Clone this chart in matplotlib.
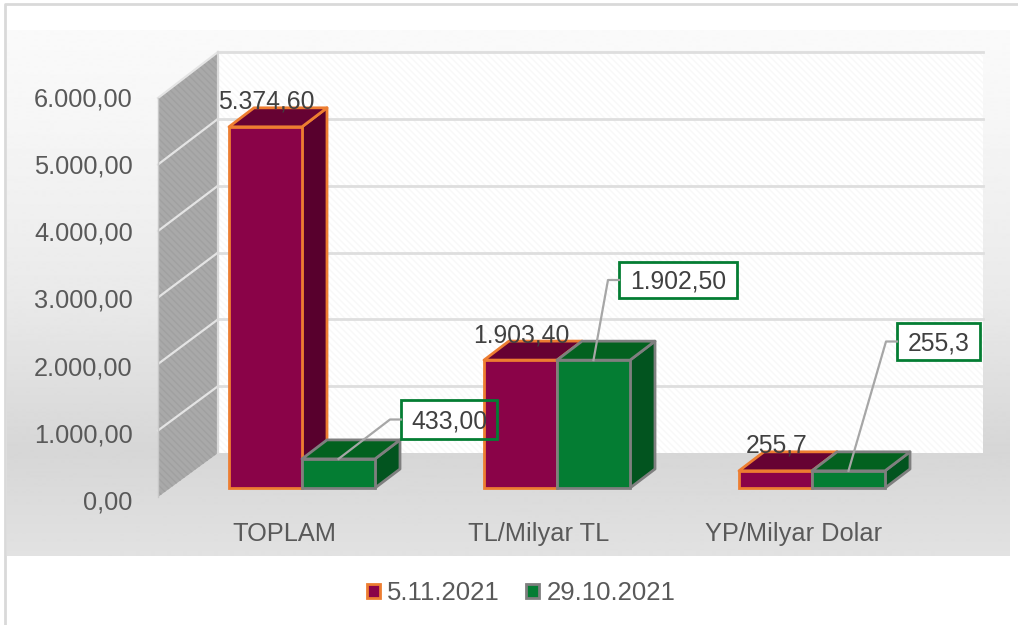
import numpy as np
import matplotlib
matplotlib.use('Agg')
import matplotlib.pyplot as plt
from matplotlib.patches import Polygon, Rectangle
from matplotlib.transforms import ScaledTranslation

# --- Data ---
categories = ['TOPLAM', 'TL/Milyar TL', 'YP/Milyar Dolar']
series_names = ['5.11.2021', '29.10.2021']
values_nov = [5374.60, 1903.40, 255.7]
values_oct = [433.00, 1902.50, 255.3]
labels_nov = ['5.374,60', '1.903,40', '255,7']
labels_oct = ['433,00', '1.902,50', '255,3']
y_ticks = [0, 1000, 2000, 3000, 4000, 5000, 6000]
y_tick_labels = ['0,00', '1.000,00', '2.000,00', '3.000,00', '4.000,00', '5.000,00', '6.000,00']

# --- Layout (pixels of the 1018x625 picture) ---
W, H = 1018, 625
DPI = 100
DEPTH_X, DEPTH_Y = 25, 19     # depth of the 3D bars
BAR_W = 73 / 255              # one bar, in category units
PX_Y = 403.2 / 6000           # pixels per unit on the front plane

plt.rcParams['font.family'] = ['Liberation Sans', 'DejaVu Sans']
plt.rcParams['hatch.linewidth'] = 1.0

fig = plt.figure(figsize=(W / DPI, H / DPI), dpi=DPI, facecolor='white')

# --- Background, walls and frame in picture pixels ---
bg = fig.add_axes([0, 0, 1, 1])
bg.set_axis_off()
rows = np.arange(30, 557)
shade = np.interp(rows, [30, 120, 300, 450, 556], [0.98, 0.965, 0.915, 0.84, 0.885])
bg.imshow(shade[:, None], cmap='gray', vmin=0, vmax=1, extent=(7, 1010, 556, 30),
          aspect='auto', interpolation='bilinear', zorder=0)
bg.set_xlim(0, W)
bg.set_ylim(H, 0)

bg.plot([5.5, 5.5, W], [H, 4, 4], color='#d9d9d9', lw=2, zorder=1)

def back_y(v):
    return 453 - v * 401 / 6000

def side_y(v):
    return 497 - v * 399 / 6000

bg.add_patch(Polygon([(218, 52), (983, 52), (983, 453), (218, 453)], facecolor='white',
                     edgecolor='#f8f8f8', hatch='\\\\\\\\\\', lw=0, zorder=1))
bg.add_patch(Polygon([(158, 98), (218, 52), (218, 453), (158, 497)], facecolor='#a9a9a9',
                     edgecolor='#a0a0a0', hatch='\\\\\\\\\\', lw=0, zorder=1))
for v in y_ticks:
    if v > 0:
        bg.plot([218, 983], [back_y(v), back_y(v)], color='#dedede', lw=2, zorder=2)
        bg.plot([158, 218], [side_y(v), back_y(v)], color='#e4e4e4', lw=1.6, zorder=2)
bg.plot([158, 158], [side_y(0), side_y(6000)], color='#c8c8c8', lw=1, zorder=2)
bg.plot([218, 218], [back_y(0), back_y(6000)], color='#dadada', lw=1.6, zorder=2)

# --- Bars on the front plane ---
ax = fig.add_axes([174.5 / W, (H - 488) / H, 765 / W, 403.2 / H])
ax.patch.set_alpha(0)
ax.set_xlim(-0.5, 2.5)
ax.set_ylim(0, 6000)
for s in ax.spines.values():
    s.set_visible(False)

x = np.arange(len(categories))
dx = DEPTH_X / 255
dy = DEPTH_Y / PX_Y


def bar_3d(xs, vals, face, top, side, edge, z, name):
    bars = ax.bar(xs, vals, BAR_W, color=face, edgecolor=edge, linewidth=2, zorder=z + 1,
                  label=name, clip_on=False)
    for xc, v in zip(xs, vals):
        l, r = xc - BAR_W / 2, xc + BAR_W / 2
        ax.add_patch(Polygon([(r, 0), (r + dx, dy), (r + dx, v + dy), (r, v)], facecolor=side,
                             edgecolor=edge, lw=2, joinstyle='round', zorder=z, clip_on=False))
        ax.add_patch(Polygon([(l, v), (l + dx, v + dy), (r + dx, v + dy), (r, v)], facecolor=top,
                             edgecolor=edge, lw=2, joinstyle='round', zorder=z, clip_on=False))
    return bars


x_nov = x - BAR_W / 2
x_oct = x + BAR_W / 2
bars_nov = bar_3d(x_nov, values_nov, '#8a0348', '#660233', '#58002d', '#ed7d31', 2, series_names[0])
bars_oct = bar_3d(x_oct, values_oct, '#047d33', '#03611f', '#02541f', '#7f7f7f', 4, series_names[1])

# --- Axis labels ---
ax.set_yticks(y_ticks, y_tick_labels)
ax.set_xticks(x, categories)
ax.tick_params(axis='y', length=0, pad=30, labelsize=18.3, labelcolor='#595959')
ax.tick_params(axis='x', length=0, pad=24.5, labelsize=18.3, labelcolor='#595959')
for lab in ax.get_yticklabels():
    lab.set_transform(lab.get_transform() + ScaledTranslation(0, -12 / DPI, fig.dpi_scale_trans))
for lab in ax.get_xticklabels():
    lab.set_transform(lab.get_transform() + ScaledTranslation(-18 / DPI, 0, fig.dpi_scale_trans))

# --- Data labels ---
for xc, v, t in zip(x_nov, values_nov, labels_nov):
    ax.annotate(t, (xc, v), xytext=(0.5, 18), textcoords='offset points', ha='center', va='center',
                fontsize=17.8, color='#404040', zorder=10, annotation_clip=False)

# callouts: box left, top, right, bottom in pixels
callouts = [(401, 400, 497, 439), (619, 262, 737, 298), (897, 323, 980, 360)]
to_px = ax.transData + bg.transData.inverted()
for xc, v, t, (b_l, b_t, b_r, b_b) in zip(x_oct, values_oct, labels_oct, callouts):
    sx, sy = to_px.transform((xc, v))
    my = (b_t + b_b) / 2
    # white fill stays behind the bars, the outline and text stay in front
    bg.add_patch(Rectangle((b_l, b_t), b_r - b_l, b_b - b_t, facecolor='white', edgecolor='none', zorder=3))
    fig.add_artist(Rectangle((b_l / W, 1 - b_b / H), (b_r - b_l) / W, (b_b - b_t) / H, fill=False,
                             edgecolor='#047d33', lw=2, zorder=8, transform=fig.transFigure))
    fig.add_artist(plt.Line2D([sx / W, (b_l - 11) / W, b_l / W], [1 - sy / H, 1 - my / H, 1 - my / H],
                              color='#a6a6a6', lw=1.6, zorder=8, transform=fig.transFigure))
    fig.text((b_l + b_r) / 2 / W, 1 - (my + 2) / H, t, ha='center', va='center', fontsize=17.8,
             color='#404040', zorder=9)

# --- Legend ---
fig.legend(handles=[bars_nov, bars_oct], labels=series_names, loc='center', ncols=2,
           bbox_to_anchor=(521 / W, 1 - 593 / H), frameon=False, fontsize=18.5, labelcolor='#595959',
           handlelength=0.5, handleheight=0.5, handletextpad=0.3, columnspacing=1.0)

fig.savefig('out.png', dpi=DPI, facecolor='white')
